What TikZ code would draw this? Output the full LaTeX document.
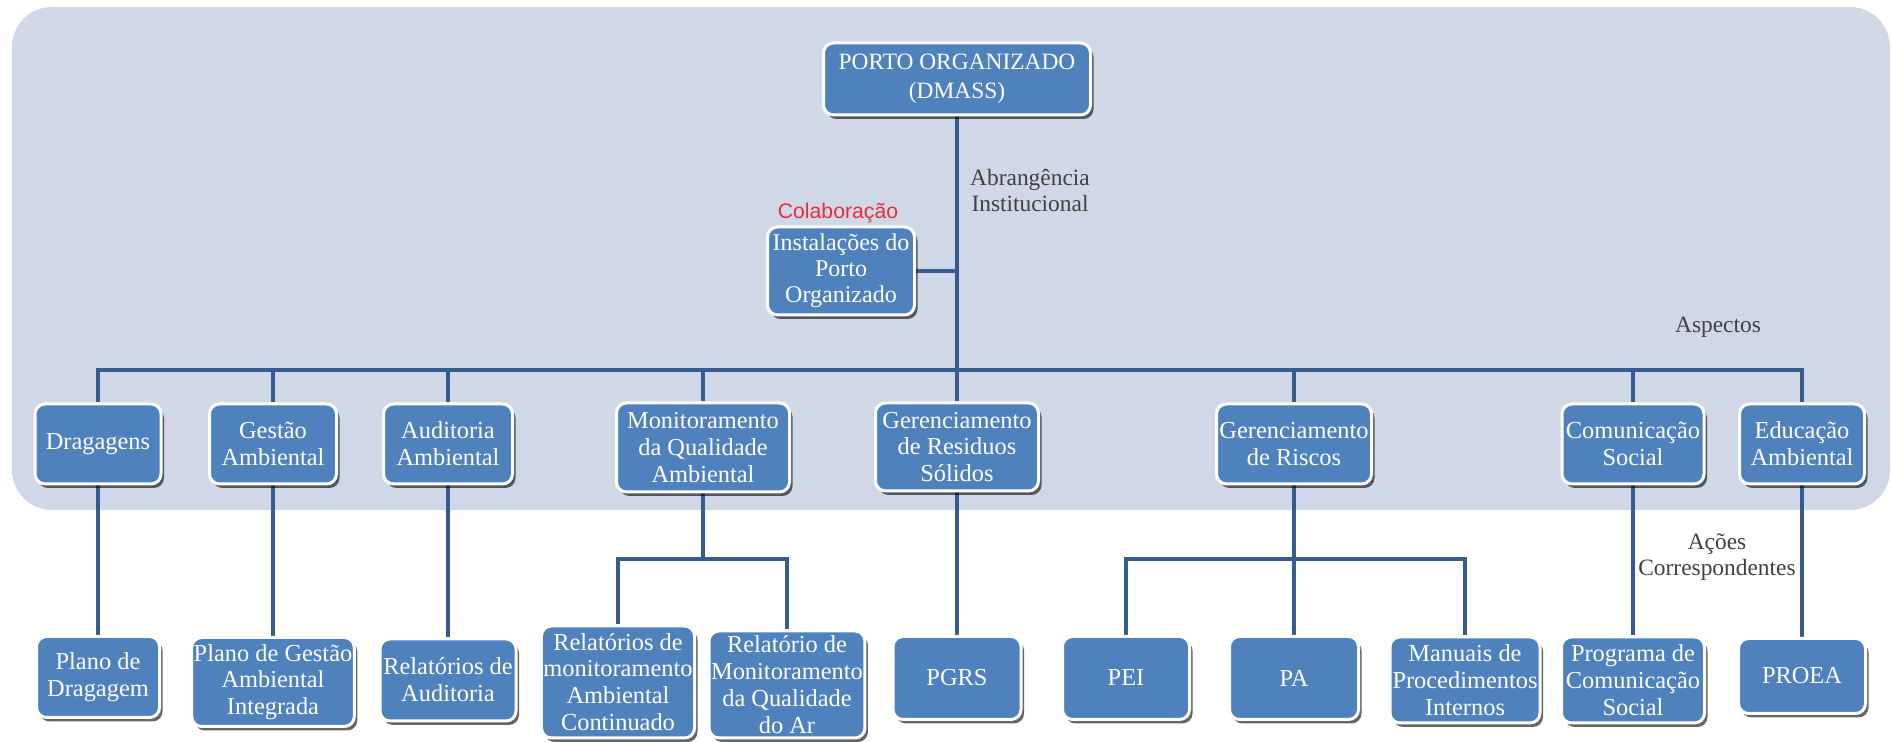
\documentclass[tikz,border=0pt]{standalone}
\usepackage{fontspec}
\setmainfont{Liberation Serif}
\newfontfamily\colabfont{Liberation Sans}
\usetikzlibrary{shadows,backgrounds}

\definecolor{panel}{RGB}{208,216,232}
\definecolor{boxblue}{RGB}{79,129,189}
\definecolor{linkblue}{RGB}{52,92,142}
\definecolor{notegray}{RGB}{64,64,64}
\definecolor{colabred}{RGB}{228,46,58}

\begin{document}
\begin{tikzpicture}[x=0.5pt,y=-0.5pt,
  orgbox/.style={fill=boxblue, draw=white, line width=1.5pt, rounded corners=5pt,
    text=white, align=center, inner xsep=1pt, inner ysep=1pt,
    font=\fontsize{12.2}{13.4}\selectfont,
    drop shadow={shadow xshift=1.5pt, shadow yshift=-2pt, fill=black, opacity=0.6}},
  boxsize/.style 2 args={minimum width=#1, minimum height=#2},
  link/.style={draw=linkblue, line width=1.7pt},
  note/.style={text=notegray, align=center, font=\fontsize{11.7}{13}\selectfont}
]
\useasboundingbox (0,0) rectangle (1892,742);

% root and institutional level
\node[orgbox, boxsize={133.5pt}{36pt}, font=\fontsize{11.7}{14.5}\selectfont] (top) at (957,79) {PORTO ORGANIZADO\\(DMASS)};
\node[orgbox, boxsize={73.5pt}{44pt}, font=\fontsize{12}{13}\selectfont] (inst) at (841,271) {Instalações do\\Porto\\Organizado};
\node[text=colabred, font=\colabfont\fontsize{10.6}{12}\selectfont] (colab) at (838,213) {Colaboração};
\node[note] (abr) at (1030,190) {Abrangência\\Institucional};
\node[note] (asp) at (1718,327) {Aspectos};
\node[note] (acoes) at (1717,557) {Ações\\Correspondentes};

% aspects
\node[orgbox, boxsize={63pt}{40pt}] (drag) at (98,444) {Dragagens};
\node[orgbox, boxsize={63.5pt}{40pt}] (gest) at (273,444) {Gestão\\Ambiental};
\node[orgbox, boxsize={64.5pt}{40pt}] (aud) at (448,444) {Auditoria\\Ambiental};
\node[orgbox, boxsize={86.5pt}{44.5pt}] (mon) at (703,447.5) {Monitoramento\\da Qualidade\\Ambiental};
\node[orgbox, boxsize={81.5pt}{44pt}] (res) at (957,447) {Gerenciamento\\de Residuos\\Sólidos};
\node[orgbox, boxsize={77.5pt}{40pt}] (risc) at (1294,444) {Gerenciamento\\de Riscos};
\node[orgbox, boxsize={71pt}{40pt}] (com) at (1633,444) {Comunicação\\Social};
\node[orgbox, boxsize={62.5pt}{40pt}] (edu) at (1802,444) {Educação\\Ambiental};

% corresponding actions
\node[orgbox, boxsize={61.5pt}{40.5pt}] (pdrag) at (98,677) {Plano de\\Dragagem};
\node[orgbox, boxsize={79.5pt}{44.5pt}] (pgest) at (273,682) {Plano de Gestão\\Ambiental\\Integrada};
\node[orgbox, boxsize={68pt}{41pt}] (raud) at (448,680) {Relatórios de\\Auditoria};
\node[orgbox, boxsize={76pt}{56pt}] (relmon) at (618,682) {Relatórios de\\monitoramento\\Ambiental\\Continuado};
\node[orgbox, boxsize={76pt}{53.5pt}] (relar) at (787,684.5) {Relatório de\\Monitoramento\\da Qualidade\\do Ar};
\node[orgbox, boxsize={64pt}{41.5pt}] (pgrs) at (957,678) {PGRS};
\node[orgbox, boxsize={63.5pt}{41.5pt}] (pei) at (1126,678) {PEI};
\node[orgbox, boxsize={64.5pt}{41.5pt}] (pa) at (1294,678) {PA};
\node[orgbox, boxsize={75pt}{43pt}] (manu) at (1465,680) {Manuais de\\Procedimentos\\Internos};
\node[orgbox, boxsize={71.5pt}{43pt}] (prog) at (1633,680) {Programa de\\Comunicação\\Social};
\node[orgbox, boxsize={63.5pt}{37.5pt}] (proea) at (1802,676) {PROEA};

% junction points of the tree
\coordinate (bus) at (957,370);
\coordinate (monbus) at (703,559);
\coordinate (riscbus) at (1294,559);

\begin{scope}[on background layer]
  \fill[panel, rounded corners=20pt] (12,7) rectangle (1890,510);
  \draw[link] (top.south) -- (bus);
  \draw[link] (inst.east) -- (inst.east -| bus);
  \foreach \n in {drag,gest,aud,mon,res,risc,com,edu}
    \draw[link] (bus) -| (\n.north);
  \draw[link] (drag.south) -- (pdrag.north);
  \draw[link] (gest.south) -- (pgest.north);
  \draw[link] (aud.south) -- (raud.north);
  \draw[link] (res.south) -- (pgrs.north);
  \draw[link] (com.south) -- (prog.north);
  \draw[link] (edu.south) -- (proea.north);
  \draw[link] (mon.south) -- (monbus);
  \draw[link] (monbus) -| (relmon.north);
  \draw[link] (monbus) -| (relar.north);
  \draw[link] (risc.south) -- (riscbus);
  \draw[link] (riscbus) -| (pei.north);
  \draw[link] (riscbus) -| (pa.north);
  \draw[link] (riscbus) -| (manu.north);
\end{scope}
\end{tikzpicture}
\end{document}
